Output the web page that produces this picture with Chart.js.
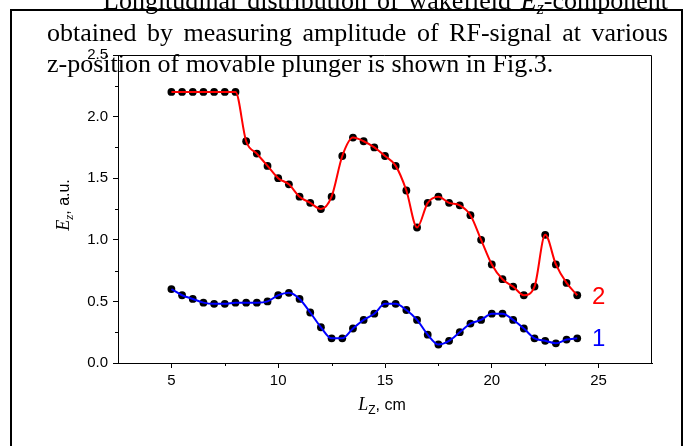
<!DOCTYPE html>
<html>
<head>
<meta charset="utf-8">
<script src="https://cdn.jsdelivr.net/npm/chart.js@4.4.1/dist/chart.umd.min.js"></script>
<style>
  html, body { margin: 0; padding: 0; background: #fff; }
  #page { position: relative; width: 685px; height: 446px; overflow: hidden; }
  #chart { position: absolute; left: 0; top: 0; }
  .ln {
    position: absolute;
    font: 26px "Liberation Serif", "Times New Roman", serif;
    line-height: 32px;
    height: 32px;
    color: #000;
    text-align: justify;
    text-align-last: justify;
  }
  .ln.last { text-align: left; text-align-last: left; }
  .ln sub { font-size: 0.7em; line-height: 0; vertical-align: baseline; position: relative; top: 0.25em; }
  .frame {
    position: absolute; left: 10px; top: 9px;
    width: 669px; height: 600px;
    border: 2px solid #000;
  }
</style>
</head>
<body>
<div id="page">
  <canvas id="chart" width="685" height="446"></canvas>
  <div class="ln" style="left:103px; top:-15px; width:565px">Longitudinal distribution of wakefield <i>E<sub>z</sub></i>-component</div>
  <div class="ln" style="left:47px; top:17px; width:621px">obtained by measuring amplitude of RF-signal at various</div>
  <div class="ln last" style="left:47px; top:48px">z-position of movable plunger is shown in Fig.3.</div>
  <div class="frame"></div>
</div>
<script>
// plunger position, cm
const zPositions = [5, 5.5, 6, 6.5, 7, 7.5, 8, 8.5, 9, 9.5, 10, 10.5, 11, 11.5, 12, 12.5, 13, 13.5, 14, 14.5,
  15, 15.5, 16, 16.5, 17, 17.5, 18, 18.5, 19, 19.5, 20, 20.5, 21, 21.5, 22, 22.5, 23, 23.5, 24];
// curve 2 (red)
const curve2 = [2.2, 2.2, 2.2, 2.2, 2.2, 2.2, 2.2, 1.8, 1.7, 1.6, 1.5, 1.45, 1.35, 1.3, 1.25, 1.35, 1.68, 1.83, 1.8, 1.75,
  1.68, 1.6, 1.4, 1.1, 1.3, 1.35, 1.3, 1.28, 1.2, 1.0, 0.8, 0.68, 0.62, 0.55, 0.62, 1.04, 0.8, 0.65, 0.55];
// curve 1 (blue)
const curve1 = [0.6, 0.55, 0.52, 0.49, 0.48, 0.48, 0.49, 0.49, 0.49, 0.5, 0.55, 0.57, 0.52, 0.41, 0.29, 0.2, 0.2, 0.28, 0.35, 0.4,
  0.48, 0.48, 0.43, 0.35, 0.23, 0.15, 0.18, 0.25, 0.32, 0.35, 0.4, 0.4, 0.35, 0.28, 0.2, 0.18, 0.16, 0.19, 0.2];

const xTicks = [5, 10, 15, 20, 25];
const xMinorTicks = [7.5, 12.5, 17.5, 22.5];
const yTicks = [0, 0.5, 1, 1.5, 2, 2.5];
const yMinorTicks = [0.25, 0.75, 1.25, 1.75, 2.25];

const SANS = '"Liberation Sans", Arial, sans-serif';
const SERIF = '"Liberation Serif", "Times New Roman", serif';

const toPoints = vals => zPositions.map((z, i) => ({ x: z, y: vals[i] }));

const seriesTags = [
  { text: "2", color: "#ff0000", x: 25, y: 0.48 },
  { text: "1", color: "#0000ff", x: 25, y: 0.14 }
];

// draws a run of differently styled pieces centred on (0,0)
function drawRich(ctx, parts) {
  let total = 0;
  parts.forEach(p => { ctx.font = p.font; p.w = ctx.measureText(p.t).width; total += p.w; });
  let x = -total / 2;
  ctx.textAlign = "left";
  ctx.textBaseline = "alphabetic";
  parts.forEach(p => {
    ctx.font = p.font;
    ctx.fillText(p.t, x, p.dy || 0);
    x += p.w;
  });
}

const decorations = {
  id: "decorations",
  afterDraw(chart) {
    const { ctx, chartArea: a, scales: { x, y } } = chart;
    ctx.save();
    ctx.strokeStyle = "#000";
    ctx.lineWidth = 1;
    ctx.beginPath();
    ctx.moveTo(a.left, a.top + 0.5);
    ctx.lineTo(a.right - 0.5, a.top + 0.5);
    ctx.lineTo(a.right - 0.5, a.bottom);
    yMinorTicks.forEach(v => {
      const py = Math.round(y.getPixelForValue(v)) + 0.5;
      ctx.moveTo(a.left - 3, py);
      ctx.lineTo(a.left, py);
    });
    xMinorTicks.forEach(v => {
      const px = Math.round(x.getPixelForValue(v)) + 0.5;
      ctx.moveTo(px, a.bottom);
      ctx.lineTo(px, a.bottom + 3);
    });
    ctx.stroke();

    ctx.fillStyle = "#000";
    // x title
    ctx.save();
    ctx.translate((a.left + a.right) / 2 - 3, a.bottom + 47);
    drawRich(ctx, [
      { t: "L", font: "italic 18px " + SERIF },
      { t: "Z", font: "12px " + SANS, dy: 4 },
      { t: ", cm", font: "16px " + SANS }
    ]);
    ctx.restore();
    // y title
    ctx.save();
    ctx.translate(69, (a.top + a.bottom) / 2 - 4);
    ctx.rotate(-Math.PI / 2);
    drawRich(ctx, [
      { t: "E", font: "italic 18px " + SERIF },
      { t: "z", font: "italic 13px " + SERIF, dy: 4 },
      { t: ", a.u.", font: "16px " + SANS }
    ]);
    ctx.restore();

    // curve numbers
    ctx.font = "24px " + SANS;
    ctx.textAlign = "center";
    ctx.textBaseline = "alphabetic";
    seriesTags.forEach(s => {
      ctx.fillStyle = s.color;
      ctx.fillText(s.text, x.getPixelForValue(s.x), y.getPixelForValue(s.y));
    });
    ctx.restore();
  }
};

const tickFont = { family: SANS, size: 15 };

new Chart(document.getElementById("chart").getContext("2d"), {
  type: "scatter",
  data: {
    datasets: [
      // fitted curves sit on top of the measured dots
      { label: "2", data: toPoints(curve2), showLine: true, borderColor: "#ff0000", borderWidth: 2,
        pointRadius: 0, cubicInterpolationMode: "monotone", order: 0 },
      { label: "1", data: toPoints(curve1), showLine: true, borderColor: "#0000ff", borderWidth: 2,
        pointRadius: 0, cubicInterpolationMode: "monotone", order: 0 },
      { label: "2 points", data: toPoints(curve2), backgroundColor: "#000", borderWidth: 0, pointRadius: 3.9, order: 1 },
      { label: "1 points", data: toPoints(curve1), backgroundColor: "#000", borderWidth: 0, pointRadius: 3.9, order: 1 }
    ]
  },
  options: {
    responsive: false,
    animation: false,
    events: [],
    layout: { padding: { left: 0, right: 33, top: 55, bottom: 0 } },
    plugins: { legend: { display: false }, tooltip: { enabled: false } },
    scales: {
      x: {
        type: "linear",
        min: 2.5,
        max: 27.5,
        afterBuildTicks: s => { s.ticks = xTicks.map(v => ({ value: v })); },
        afterFit: s => { s.height = 83; },
        grid: { drawOnChartArea: false, drawTicks: true, tickLength: 5, color: "#000", lineWidth: 1 },
        border: { display: true, color: "#000", width: 1 },
        ticks: { font: tickFont, color: "#000", padding: 4, maxRotation: 0, autoSkip: false }
      },
      y: {
        min: 0,
        max: 2.5,
        afterBuildTicks: s => { s.ticks = yTicks.map(v => ({ value: v })); },
        afterFit: s => { s.width = 118; },
        grid: { drawOnChartArea: false, drawTicks: true, tickLength: 5, color: "#000", lineWidth: 1 },
        border: { display: true, color: "#000", width: 1 },
        ticks: { font: tickFont, color: "#000", padding: 5, callback: v => v.toFixed(1) }
      }
    }
  },
  plugins: [decorations]
});
</script>
</body>
</html>
